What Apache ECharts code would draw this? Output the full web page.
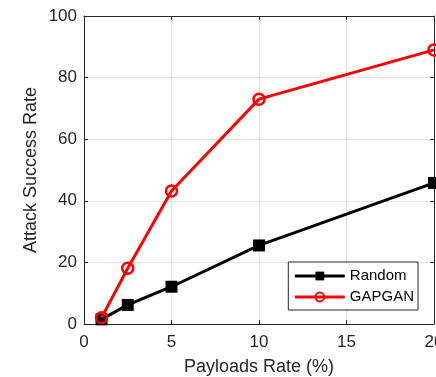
<!DOCTYPE html>
<html>
<head>
<meta charset="utf-8">
<script src="https://cdn.jsdelivr.net/npm/echarts@6/dist/echarts.min.js"></script>
<style>
html,body{margin:0;padding:0;background:#fff;}
#chart{width:436px;height:377px;}
</style>
</head>
<body>
<div id="chart"></div>
<script>
// Payload rate (%) on the x axis
const payloadRates = [1, 2.5, 5, 10, 20];
// Attack success rate per method
const randomRates = [1.5, 6.2, 12.1, 25.5, 45.8];
const gapganRates = [2, 18.1, 43.2, 73, 89];
const xTicks = [0, 5, 10, 15, 20];
const yTicks = [0, 20, 40, 60, 80, 100];

const font = 'Liberation Sans, Arial, sans-serif';
const textColor = '#262626';
const frameColor = '#262626';

const chart = echarts.init(document.getElementById('chart'), null, {renderer: 'canvas'});

const toPairs = (xs, ys) => xs.map((x, i) => [x, ys[i]]);

const frameAxis = (position) => ({
  type: 'value', position: position,
  axisLine: {show: true, onZero: false, lineStyle: {color: frameColor, width: 1}},
  axisTick: {show: true, inside: true, length: 4, lineStyle: {color: frameColor}},
  axisLabel: {show: false},
  splitLine: {show: false}
});

chart.setOption({
  animation: false,
  backgroundColor: '#fff',
  grid: {left: 84, top: 16, right: 2, bottom: 53, containLabel: false, outerBoundsMode: 'none'},
  legend: {
    right: 18, top: 262,
    orient: 'vertical',
    backgroundColor: '#fff',
    borderColor: '#262626', borderWidth: 1,
    padding: [6, 4, 5, 5],
    itemGap: 5,
    itemWidth: 50, itemHeight: 11,
    lineStyle: {width: 3},
    textStyle: {fontFamily: font, fontSize: 15, color: '#000', lineHeight: 16},
    data: ['Random', 'GAPGAN']
  },
  xAxis: [{
    type: 'value', min: xTicks[0], max: xTicks[xTicks.length - 1], interval: 5,
    position: 'bottom',
    name: 'Payloads Rate (%)', nameLocation: 'middle', nameGap: 34, nameMoveOverlap: false,
    nameTextStyle: {fontFamily: font, fontSize: 18, color: textColor},
    axisLine: {show: true, onZero: false, lineStyle: {color: frameColor, width: 1}},
    axisTick: {show: true, inside: true, length: 4, lineStyle: {color: frameColor}},
    axisLabel: {fontFamily: font, fontSize: 17, color: textColor, margin: 10},
    splitLine: {show: true, lineStyle: {color: '#e3e3e3', width: 1}}
  }, Object.assign(frameAxis('top'), {min: xTicks[0], max: xTicks[xTicks.length - 1], interval: 5})],
  yAxis: [{
    type: 'value', min: yTicks[0], max: yTicks[yTicks.length - 1], interval: 20,
    position: 'left',
    name: 'Attack Success Rate', nameLocation: 'middle', nameGap: 44, nameMoveOverlap: false,
    nameTextStyle: {fontFamily: font, fontSize: 18, color: textColor},
    axisLine: {show: true, onZero: false, lineStyle: {color: frameColor, width: 1}},
    axisTick: {show: true, inside: true, length: 4, lineStyle: {color: frameColor}},
    axisLabel: {fontFamily: font, fontSize: 17, color: textColor, margin: 7},
    splitLine: {show: true, lineStyle: {color: '#e3e3e3', width: 1}}
  }, Object.assign(frameAxis('right'), {min: yTicks[0], max: yTicks[yTicks.length - 1], interval: 20})],
  series: [{
    name: 'Random', type: 'line',
    data: toPairs(payloadRates, randomRates),
    lineStyle: {color: '#000', width: 3},
    itemStyle: {color: '#000', borderColor: '#000', borderWidth: 0},
    symbol: 'rect', symbolSize: 12,
    z: 3
  }, {
    name: 'GAPGAN', type: 'line',
    data: toPairs(payloadRates, gapganRates),
    lineStyle: {color: '#ff0000', width: 3},
    itemStyle: {color: 'rgba(255,255,255,0)', borderColor: '#ff0000', borderWidth: 2.5},
    symbol: 'circle', symbolSize: 11,
    z: 4
  }]
});
</script>
</body>
</html>
